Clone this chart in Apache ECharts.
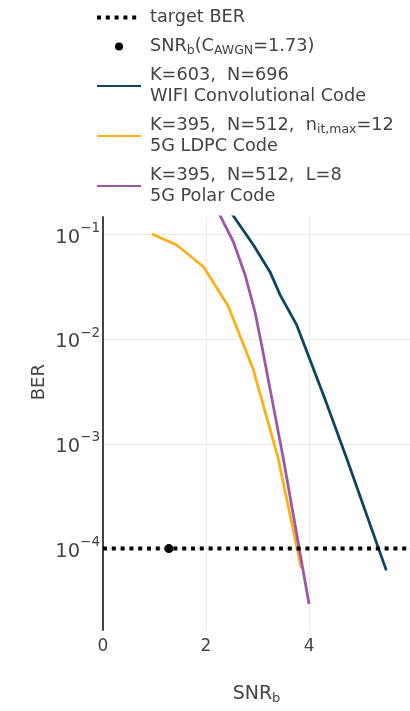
<!DOCTYPE html>
<html>
<head>
<meta charset="utf-8">
<script src="https://cdn.jsdelivr.net/npm/echarts@6/dist/echarts.min.js"></script>
<style>
  html, body { margin: 0; padding: 0; background: #fff; }
  #chart { width: 410px; height: 711px; }
</style>
</head>
<body>
<div id="chart"></div>
<script>
// Axis ranges
const snrRange = [0, 5.96];
const berRange = [1.67e-5, 0.147];
const snrTicks = [0, 2, 4];

// Target bit error rate
const targetBer = 1e-4;
const targetSnr = [0, 5.96];

// Shannon-limit operating point
const awgnSnr = 1.28;

// WIFI convolutional code, K=603, N=696
const snrWifi = [2.3, 2.92, 3.24, 3.44, 3.76, 4.02, 4.34, 4.73, 5.50];
const berWifi = [0.22, 0.0794, 0.0442, 0.0264, 0.0137, 0.00632, 0.00244, 7.3e-4, 6.2e-5];

// 5G LDPC code, K=395, N=512, 12 iterations max
const snrLdpc = [0.95, 1.43, 1.95, 2.43, 2.92, 3.40, 3.85];
const berLdpc = [0.101, 0.0794, 0.0492, 0.0208, 0.0051, 7.3e-4, 6.5e-5];

// 5G polar code, K=395, N=512, list size 8
const snrPolar = [2.15, 2.53, 2.76, 2.95, 3.08, 3.50, 4.0];
const berPolar = [0.2, 0.0853, 0.041, 0.0183, 0.0088, 7.3e-4, 2.96e-5];

const pairs = (xs, ys) => xs.map((x, i) => [x, ys[i]]);

const FONT = 'DejaVu Sans';
const GREY = '#444';

const legendNames = {
  'target BER': 'target BER',
  'awgn': 'SNR{sub|b}(C{sub|AWGN}=1.73)',
  'wifi': 'K=603,  N=696\nWIFI Convolutional Code',
  'ldpc': 'K=395,  N=512,  n{sub|it,max}=12\n5G LDPC Code',
  'polar': 'K=395,  N=512,  L=8\n5G Polar Code'
};

// line entries show only their stroke, the marker entry only its dot
const lineOnly = (name, extra) => Object.assign({ name, itemStyle: { opacity: 0 } }, extra || {});

const chart = echarts.init(document.getElementById('chart'), null, { renderer: 'canvas' });

chart.setOption({
  backgroundColor: '#fff',
  animation: false,
  textStyle: { fontFamily: FONT },
  grid: { left: 103, right: 0, top: 217, bottom: 81, containLabel: false },
  legend: {
    orient: 'vertical',
    left: 95,
    top: 7,
    padding: 0,
    itemWidth: 44,
    itemHeight: 8,
    itemGap: 8,
    align: 'left',
    data: [
      lineOnly('target BER', { lineStyle: { width: 4, type: [4, 4.8], color: '#000' } }),
      { name: 'awgn', itemStyle: { color: '#000' } },
      lineOnly('wifi'),
      lineOnly('ldpc'),
      lineOnly('polar')
    ],
    formatter: name => legendNames[name],
    textStyle: {
      fontFamily: FONT,
      fontSize: 17.7,
      color: GREY,
      lineHeight: 21,
      padding: [0, 0, 0, 4],
      rich: {
        sub: { fontFamily: FONT, fontSize: 12.5, color: GREY, lineHeight: 11, verticalAlign: 'bottom' }
      }
    }
  },
  xAxis: {
    type: 'value',
    min: snrRange[0],
    max: snrRange[1],
    interval: 2,
    axisLine: { show: false },
    axisTick: { show: false },
    splitLine: { show: true, showMinLine: false, showMaxLine: false, lineStyle: { color: '#ebebeb', width: 1 } },
    axisLabel: {
      margin: 8,
      fontFamily: FONT,
      fontSize: 17,
      color: GREY,
      showMaxLabel: false,
      formatter: v => snrTicks.includes(v) ? String(v) : ''
    },
    name: 'SNR{sub|b}',
    nameLocation: 'middle',
    nameGap: 53,
    nameTextStyle: {
      fontFamily: FONT,
      fontSize: 19,
      color: GREY,
      lineHeight: 22,
      rich: { sub: { fontFamily: FONT, fontSize: 13, color: GREY, lineHeight: 12, verticalAlign: 'bottom' } }
    }
  },
  yAxis: {
    type: 'log',
    logBase: 10,
    min: berRange[0],
    max: berRange[1],
    axisLine: { show: true, onZero: false, lineStyle: { color: GREY, width: 2 } },
    axisTick: { show: false },
    splitLine: { show: true, showMinLine: false, showMaxLine: false, lineStyle: { color: '#ebebeb', width: 1 } },
    axisLabel: {
      margin: 3,
      showMinLabel: false,
      showMaxLabel: false,
      formatter: v => {
        const e = Math.log10(v);
        const r = Math.round(e);
        if (Math.abs(e - r) > 1e-6) return '';
        return '{b|10}{s|\u2212' + Math.abs(r) + '}';
      },
      rich: {
        b: { fontFamily: FONT, fontSize: 19.5, color: GREY, lineHeight: 26, verticalAlign: 'bottom' },
        s: { fontFamily: FONT, fontSize: 13.5, color: GREY, lineHeight: 14, verticalAlign: 'top' }
      }
    }
  },
  graphic: [{
    type: 'text',
    left: 30,
    top: 364,
    rotation: Math.PI / 2,
    style: { text: 'BER', fontFamily: FONT, fontSize: 18, fill: GREY, textAlign: 'center', textVerticalAlign: 'middle', x: 9, y: 19 }
  }],
  series: [
    {
      name: 'target BER',
      type: 'line',
      data: targetSnr.map(x => [x, targetBer]),
      symbol: 'none',
      lineStyle: { color: '#000', width: 4, type: [4, 4.8], cap: 'butt' },
      itemStyle: { color: '#000' },
      z: 5
    },
    {
      name: 'awgn',
      type: 'scatter',
      data: [[awgnSnr, targetBer]],
      symbol: 'circle',
      symbolSize: 9,
      itemStyle: { color: '#000', opacity: 1 },
      z: 6
    },
    {
      name: 'wifi',
      type: 'line',
      data: pairs(snrWifi, berWifi),
      symbol: 'none',
      clip: true,
      lineStyle: { color: '#0e4660', width: 2.8 },
      itemStyle: { color: '#0e4660' }
    },
    {
      name: 'ldpc',
      type: 'line',
      data: pairs(snrLdpc, berLdpc),
      symbol: 'none',
      clip: true,
      lineStyle: { color: '#fbb017', width: 2.8 },
      itemStyle: { color: '#fbb017' }
    },
    {
      name: 'polar',
      type: 'line',
      data: pairs(snrPolar, berPolar),
      symbol: 'none',
      clip: true,
      lineStyle: { color: '#9c58a6', width: 2.8 },
      itemStyle: { color: '#9c58a6' }
    }
  ]
});
</script>
</body>
</html>
